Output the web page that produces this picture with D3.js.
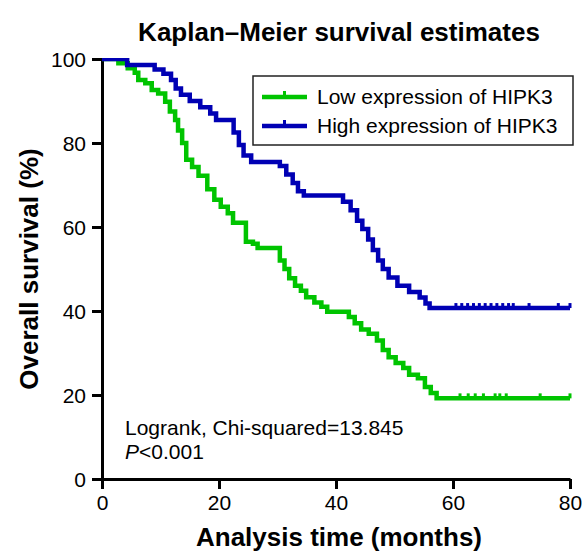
<!DOCTYPE html>
<html>
<head>
<meta charset="utf-8">
<script src="https://cdn.jsdelivr.net/npm/d3@7"></script>
<style>
  body { margin: 0; background: #fff; }
  svg { font-family: "Liberation Sans", Arial, sans-serif; }
</style>
</head>
<body>
<svg id="chart" width="582" height="552"></svg>
<script>
// Step data: time of each drop (months) and survival after it (%)
const lowTimes = [2.8, 4.4, 5.6, 6.2, 7.4, 8.5, 9.6, 10.8, 11.6, 12.5, 13.0, 13.7, 14.4, 15.4, 16.5, 18.0, 19.2, 20.3, 21.5, 22.4, 24.6, 25.8, 26.6, 30.4, 31.2, 32.0, 33.0, 34.0, 34.9, 36.3, 37.5, 38.5, 42.2, 43.2, 44.3, 45.6, 47.0, 48.0, 49.0, 50.2, 51.5, 52.5, 54.0, 55.2, 56.2, 57.2];
const lowSurv  = [99, 97.8, 96.7, 95, 94.2, 92.6, 91.8, 89.8, 87.5, 85.5, 83, 80, 76, 74.3, 72.2, 69, 66.5, 64.8, 63.3, 61, 56.5, 56, 55, 52, 50, 47.8, 46, 44.8, 43.3, 42, 41, 39.8, 38.6, 37.1, 35.6, 34.6, 33, 30.7, 29, 27.6, 26.4, 24.8, 24, 21.9, 20.5, 19.2];
const lowCensor = [61.2, 62.6, 63.8, 65.2, 67.2, 68.0, 69.1, 74.9, 80];

const highTimes = [4.3, 9.0, 10.5, 11.8, 12.6, 13.5, 15.0, 16.8, 18.5, 19.5, 22.5, 23.4, 24.2, 25.5, 30.4, 31.5, 32.6, 33.5, 34.5, 41.2, 42.5, 43.6, 44.5, 45.5, 46.3, 47.2, 48.0, 49.0, 50.5, 52.5, 54.3, 55.3, 56.0];
const highSurv  = [98.6, 97.5, 96.5, 95, 93, 91.5, 90, 88.5, 87, 85.5, 82.5, 79.5, 77, 75.5, 74.5, 72.5, 70.5, 68.5, 67.5, 66, 64, 61.5, 59.5, 57, 54.5, 52, 50, 48, 46, 44.5, 43.2, 41.8, 40.7];
const highCensor = [3.9, 60.5, 61.5, 62.5, 63.5, 64.5, 65.5, 66.5, 67.5, 68.5, 69.5, 70.3, 73.0, 78.0, 80];

const xTicks = [0, 20, 40, 60, 80];
const yTicks = [0, 20, 40, 60, 80, 100];
const groups = ["Low expression of HIPK3", "High expression of HIPK3"];
const colors = ["#00c400", "#0000b4"];

const svg = d3.select("#chart");
const x = d3.scaleLinear().domain([0, 80]).range([102, 570]);
const y = d3.scaleLinear().domain([0, 100]).range([479, 59]);

// title
svg.append("text")
  .attr("x", 339).attr("y", 41)
  .attr("text-anchor", "middle")
  .style("font-weight", "bold").style("font-size", "26px")
  .text("Kaplan\u2013Meier survival estimates");

// axes
const xAxis = svg.append("g")
  .attr("transform", `translate(0,${y(0)})`)
  .call(d3.axisBottom(x).tickValues(xTicks).tickSize(10).tickPadding(6).tickSizeOuter(0));
const yAxis = svg.append("g")
  .attr("transform", `translate(${x(0)},0)`)
  .call(d3.axisLeft(y).tickValues(yTicks).tickSize(10).tickPadding(6).tickSizeOuter(0));
[xAxis, yAxis].forEach(g => {
  g.select(".domain").attr("stroke", "#000").attr("stroke-width", 3);
  g.selectAll(".tick line").attr("stroke", "#000").attr("stroke-width", 3);
  g.selectAll("text").style("font-size", "21px").attr("fill", "#000")
    .style("font-family", "'Liberation Sans', Arial, sans-serif");
});
yAxis.selectAll("text").attr("dy", "0.35em");

// axis titles
svg.append("text")
  .attr("x", 339).attr("y", 546)
  .attr("text-anchor", "middle")
  .style("font-weight", "bold").style("font-size", "26px")
  .text("Analysis time (months)");
svg.append("text")
  .attr("transform", `translate(38,${(y(0) + y(100)) / 2}) rotate(-90)`)
  .attr("text-anchor", "middle")
  .style("font-weight", "bold").style("font-size", "26px")
  .text("Overall survival (%)");

// survival curves
svg.append("clipPath").attr("id", "plotclip")
  .append("rect").attr("x", x(0)).attr("y", y(100) - 1)
  .attr("width", x(80) - x(0) + 4).attr("height", y(0) - y(100));

const line = d3.line().x(d => x(d[0])).y(d => y(d[1])).curve(d3.curveStepAfter);
const series = [
  { times: lowTimes, surv: lowSurv, censor: lowCensor, color: colors[0] },
  { times: highTimes, surv: highSurv, censor: highCensor, color: colors[1] }
];

const plot = svg.append("g").attr("clip-path", "url(#plotclip)");
series.forEach(s => {
  const pts = [[0, 100]].concat(s.times.map((t, i) => [t, s.surv[i]]));
  pts.push([80, s.surv[s.surv.length - 1]]);
  plot.append("path")
    .attr("d", line(pts))
    .attr("fill", "none")
    .attr("stroke", s.color)
    .attr("stroke-width", 4.5);

  // censor marks: value of the step curve at each censored time
  const survAt = t => {
    let v = 100;
    s.times.forEach((tt, i) => { if (tt <= t) v = s.surv[i]; });
    return v;
  };
  plot.selectAll(null)
    .data(s.censor)
    .join("line")
    .attr("x1", d => x(d)).attr("x2", d => x(d))
    .attr("y1", d => y(survAt(d)))
    .attr("y2", d => y(survAt(d)) - 5)
    .attr("stroke", s.color)
    .attr("stroke-width", 3);
});

// legend
const legend = svg.append("g");
legend.append("rect")
  .attr("x", 253).attr("y", 76).attr("width", 320).attr("height", 69)
  .attr("fill", "#fff").attr("stroke", "#222").attr("stroke-width", 1.5);
groups.forEach((g, i) => {
  const ly = 97 + i * 29;
  legend.append("line")
    .attr("x1", 262).attr("x2", 307).attr("y1", ly).attr("y2", ly)
    .attr("stroke", colors[i]).attr("stroke-width", 4.5);
  legend.append("line")
    .attr("x1", 284.5).attr("x2", 284.5).attr("y1", ly).attr("y2", ly - 6)
    .attr("stroke", colors[i]).attr("stroke-width", 3);
  legend.append("text")
    .attr("x", 317).attr("y", ly + 7)
    .style("font-size", "21px")
    .text(g);
});

// logrank annotation
svg.append("text")
  .attr("x", 125).attr("y", 435)
  .style("font-size", "21px")
  .text("Logrank, Chi-squared=13.845");
const pt = svg.append("text")
  .attr("x", 125).attr("y", 459)
  .style("font-size", "21px");
pt.append("tspan").style("font-style", "italic").text("P");
pt.append("tspan").text("<0.001");
</script>
</body>
</html>
